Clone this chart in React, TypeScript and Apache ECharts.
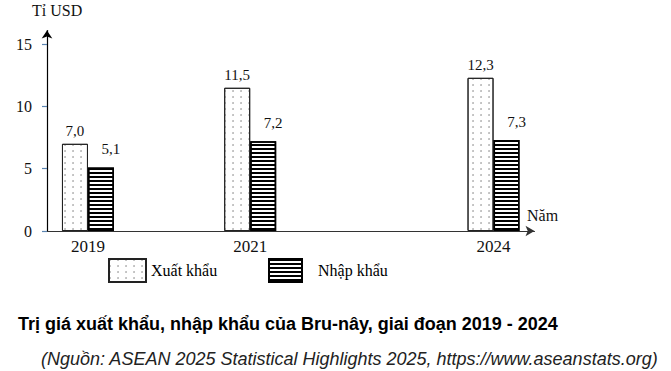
import React, { useEffect, useRef } from "react";
import * as echarts from "echarts";

const years = [2019, 2021, 2024];
const exportValues = [7.0, 11.5, 12.3];
const importValues = [5.1, 7.2, 7.3];
const yTicks = [0, 5, 10, 15];
const seriesNames = ["Xuất khẩu", "Nhập khẩu"];
const titleText = "Trị giá xuất khẩu, nhập khẩu của Bru-nây, giai đoạn 2019 - 2024";
const sourceText = "(Nguồn: ASEAN 2025 Statistical Highlights 2025, https://www.aseanstats.org)";
const yUnit = "Tỉ USD";
const xUnit = "Năm";

const SERIF = "'Liberation Serif', 'Times New Roman', serif";
const SANS = "'Liberation Sans', Arial, sans-serif";

const fmt = (v: number) => v.toFixed(1).replace(".", ",");

export default function App() {
  const ref = useRef<HTMLDivElement>(null);
  useEffect(() => {
    if (!ref.current) return;
    const chart = echarts.init(ref.current, undefined, { renderer: "svg" });
    const dotDecal = {
      symbol: "circle",
      symbolSize: 0.6,
      dashArrayX: [2, 6],
      dashArrayY: [2, 4],
      color: "#555",
      backgroundColor: "#fff",
      rotation: 0,
    };
    const stripeDecal = {
      symbol: "rect",
      symbolSize: 1,
      dashArrayX: [1, 0],
      dashArrayY: [2, 2],
      color: "#000",
      backgroundColor: "#fff",
      rotation: 0,
    };
    chart.setOption({
      animation: false,
      backgroundColor: "#fff",
      title: [
        {
          text: titleText,
          left: 18,
          top: 315,
          padding: 0,
          textStyle: { fontFamily: SANS, fontWeight: "bold", fontSize: 18, color: "#000" },
        },
        {
          text: sourceText,
          left: 41,
          top: 350,
          padding: 0,
          textStyle: { fontFamily: SANS, fontStyle: "italic", fontWeight: "normal", fontSize: 18, color: "#222" },
        },
      ],
      grid: {
        left: 47,
        right: 136.5,
        top: 30.5,
        bottom: 140,
        containLabel: false,
        outerBoundsMode: "none",
      },
      legend: [
        {
          data: [seriesNames[0]],
          left: 108,
          top: 258,
          padding: 0,
          icon: "rect",
          itemWidth: 37,
          itemHeight: 23,
          textStyle: { fontFamily: SERIF, fontSize: 16, color: "#000" },
        },
        {
          data: [seriesNames[1]],
          left: 268,
          top: 258,
          padding: 0,
          icon: "rect",
          itemWidth: 33,
          itemHeight: 23,
          textStyle: { fontFamily: SERIF, fontSize: 16, color: "#000", padding: [0, 0, 0, 11] },
        },
      ],
      xAxis: {
        type: "value",
        min: 2018.495,
        max: 2024.505,
        splitLine: { show: false },
        axisLine: {
          show: true,
          onZero: false,
          symbol: ["none", "arrow"],
          symbolSize: [8, 9],
          lineStyle: { color: "#333", width: 1.2 },
        },
        axisTick: { show: false },
        axisLabel: {
          customValues: years,
          formatter: (v: number) => String(Math.round(v)),
          fontFamily: SERIF,
          fontSize: 17,
          color: "#111",
          margin: 7,
        },
      },
      yAxis: {
        type: "value",
        min: 0,
        max: 16.1,
        splitLine: { show: false },
        axisLine: {
          show: true,
          symbol: ["none", "arrow"],
          symbolSize: [8, 8],
          lineStyle: { color: "#000", width: 1.2 },
        },
        axisTick: {
          show: true,
          customValues: yTicks,
          length: 5,
          lineStyle: { color: "#5b84b1", width: 1.2 },
        },
        axisLabel: {
          customValues: yTicks,
          fontFamily: SERIF,
          fontSize: 16,
          color: "#111",
          margin: 15,
        },
      },
      graphic: [
        {
          type: "text",
          left: 32,
          top: 2,
          style: { text: yUnit, font: `16px ${SERIF}`, fill: "#111" },
        },
        {
          type: "text",
          left: 527,
          top: 207,
          style: { text: xUnit, font: `16px ${SERIF}`, fill: "#111" },
        },
      ],
      series: [
        {
          name: seriesNames[0],
          type: "bar",
          barWidth: 26,
          barGap: "0%",
          data: years.map((y, i) => [y, exportValues[i]]),
          itemStyle: { color: "#fff", borderColor: "#222", borderWidth: 1, decal: dotDecal },
          label: {
            show: true,
            position: "top",
            distance: 5,
            formatter: (p: any) => fmt(p.value[1]),
            fontFamily: SERIF,
            fontSize: 15,
            color: "#111",
          },
        },
        {
          name: seriesNames[1],
          type: "bar",
          barWidth: 26,
          barGap: "0%",
          data: years.map((y, i) => [y, importValues[i]]),
          itemStyle: { color: "#fff", borderColor: "#000", borderWidth: 1.5, decal: stripeDecal },
          label: {
            show: true,
            position: "top",
            distance: 5,
            offset: [10, -6],
            formatter: (p: any) => fmt(p.value[1]),
            fontFamily: SERIF,
            fontSize: 15,
            color: "#111",
          },
        },
      ],
    });
    return () => chart.dispose();
  }, []);
  return (
    <div
      ref={ref}
      style={{ position: "fixed", left: 0, top: 0, width: 671, height: 371, background: "#fff" }}
    />
  );
}
